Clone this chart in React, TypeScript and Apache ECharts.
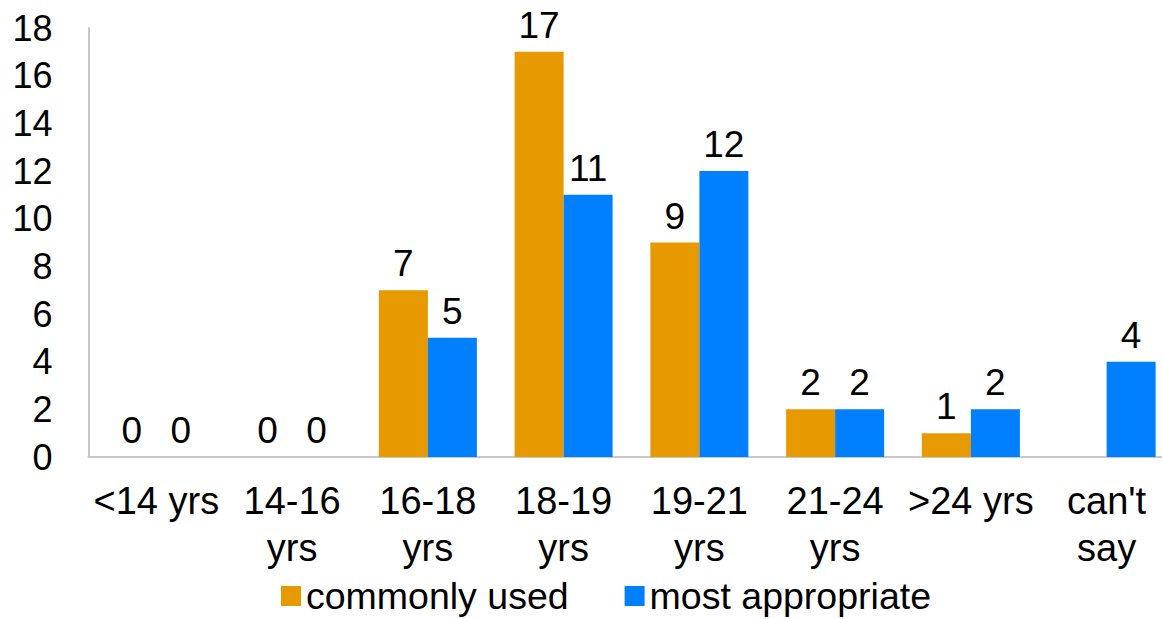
import React, { useEffect, useRef } from "react";
import * as echarts from "echarts";

const categories = ["<14 yrs", "14-16\nyrs", "16-18\nyrs", "18-19\nyrs", "19-21\nyrs", "21-24\nyrs", ">24 yrs", "can't\nsay"];
const commonlyUsed: (number | null)[] = [0, 0, 7, 17, 9, 2, 1, null];
const mostAppropriate: number[] = [0, 0, 5, 11, 12, 2, 2, 4];
const seriesNames = ["commonly used", "most appropriate"];
const colors = ["#E69A00", "#0080FF"];

export default function App() {
  const ref = useRef<HTMLDivElement>(null);
  useEffect(() => {
    if (!ref.current) return;
    const chart = echarts.init(ref.current, null, { renderer: "svg" });
    const font = "Liberation Sans, Arial, sans-serif";
    const label = {
      show: true,
      position: "top",
      distance: 8,
      color: "#000",
      fontSize: 37,
      fontFamily: font,
    };
    chart.setOption({
      animation: false,
      backgroundColor: "#fff",
      textStyle: { fontFamily: font },
      grid: { left: 88.5, width: 1086, top: 28, bottom: 162, containLabel: false, outerBoundsMode: "none" },
      legend: {
        data: seriesNames,
        left: 276,
        top: 572,
        itemWidth: 20,
        itemHeight: 20,
        itemGap: 56,
        textStyle: { fontSize: 37.5, lineHeight: 37, color: "#000", fontFamily: font },
        icon: "rect",
      },
      xAxis: {
        type: "category",
        data: categories,
        axisLine: { lineStyle: { color: "#c8c8c8", width: 2 } },
        axisTick: { show: false },
        axisLabel: { color: "#000", fontSize: 38, lineHeight: 47, margin: 20, fontFamily: font, interval: 0 },
      },
      yAxis: {
        type: "value",
        min: 0,
        max: 18,
        interval: 2,
        axisLine: { show: true, lineStyle: { color: "#c8c8c8", width: 2 } },
        axisTick: { show: false },
        splitLine: { show: false },
        axisLabel: { color: "#000", fontSize: 36, margin: 36, fontFamily: font },
      },
      series: [
        {
          name: seriesNames[0],
          type: "bar",
          data: commonlyUsed,
          barWidth: 49,
          barGap: "0%",
          itemStyle: { color: colors[0] },
          label,
        },
        {
          name: seriesNames[1],
          type: "bar",
          data: mostAppropriate,
          barWidth: 49,
          itemStyle: { color: colors[1] },
          label,
        },
      ],
    });
    return () => chart.dispose();
  }, []);
  return <div ref={ref} style={{ position: "fixed", left: 0, top: 0, width: 1162, height: 619 }} />;
}
